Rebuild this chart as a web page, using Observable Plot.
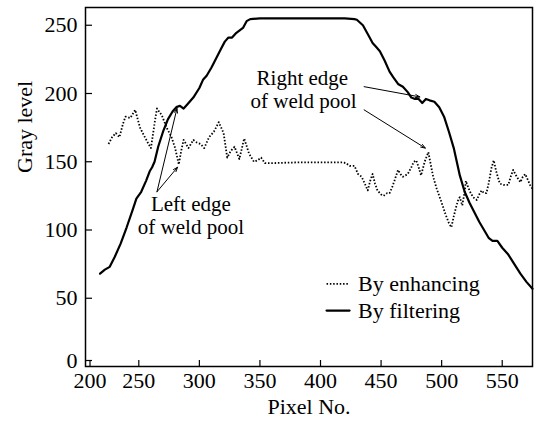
<!DOCTYPE html>
<html><head><meta charset="utf-8">
<script src="https://cdn.jsdelivr.net/npm/d3@7"></script>
<script src="https://cdn.jsdelivr.net/npm/@observablehq/plot@0.6"></script>
<style>body{margin:0;background:#fff}</style>
</head><body><div id="chart"></div>
<script>
// By filtering (solid)
const filterX = [218,222,226,230,235,240,245,248,252,256,259,261,263,266,270,274,278,281,284,287,290,295,300,303,306,310,314,318,321,324,327,330,333,336,339,342,350,380,420,428,430,435,440,443,446,449,453,457,460,464,468,472,475,478,481,484,487,490,494,498,502,506,510,515,519,523,527,531,535,539,542,546,550,555,560,565,570,575];
const filterY = [68,71,73,80,90,102,115,123,128,136,143,146,150,161,172,181,187,190,191,189,192,197,204,210,213,219,226,233,238,241,241,244,246,248,253,254.5,255,255,255,254.5,254,250,242,237,234,231,224,216,212,207,205,201,197,196,196,193,196,195,194,190,183,172,160,140,128,120,113,106,100,94,92,92,87,82,75,68,62,57];
// By enhancing (dotted)
const enhanceX = [225,228,231,234,237,239,243,247,251,255,258,260,263,265,269,273,277,280,283,285,287,291,295,298,301,304,308,312,316,320,323,326,329,333,337,341,345,348,351,354,360,380,400,418,421,424,428,431,434,437,439,441,443,445,447,450,452,455,457,459,461,464,466,468,470,472,475,477,479,481,483,486,489,491,493,496,500,503,506,508,510,512,514,515,517,519,520,522,524,526,529,531,533,535,537,539,541,543,545,548,551,555,557,559,562,565,567,569,571,573,575];
const enhanceY = [163,168,171,168,178,183,182,188,175,168,163,160,178,189,184,175,168,160,148,158,166,160,166,164,163,160,168,172,179,171,153,158,161,152,167,156,150,151,153,149,149,149.5,149.5,149.5,149,147,147,141,139,133,129,136,141,134,129,126,125,127,127,131,136,144,141,139,140,141,146,150,151,146,140,150,157,148,139,130,120,112,105,102,110,117,123,124,118,128,136,131,127,124,122,126,129,127,127,135,145,151,143,134,133,133,139,144,139,135,139,141,137,133,130];
const xTicks = [200,250,300,350,400,450,500,550];
const yTicks = [0,50,100,150,200,250];
const seriesNames = ["By enhancing","By filtering"];
const annoLeft = ["Left edge","of weld pool"];
const annoRight = ["Right edge","of weld pool"];

const filtering = filterX.map((x,i)=>({x, y: filterY[i]}));
const enhancing = enhanceX.map((x,i)=>({x, y: enhanceY[i]}));

const dotted = {stroke:"black", strokeWidth:1.8, strokeDasharray:"1.5,1.8", strokeLinecap:"butt"};
const solid = {stroke:"black", strokeWidth:2.2};
const xAx = {tickSize: -6, tickPadding: 12, label: null, strokeWidth: 1.2};
const yAx = {tickSize: -7, tickPadding: 15, label: null, strokeWidth: 1.2};

const chart = Plot.plot({
  width: 534, height: 421,
  marginLeft: 85, marginRight: 2, marginTop: 7, marginBottom: 55,
  style: {fontFamily: "'Liberation Serif', 'Times New Roman', serif", fontSize: "22px", background: "white", color: "black"},
  x: {domain: [206, 575], clamp: true},
  y: {domain: [0, 263]},
  marks: [
    Plot.axisX(xTicks.filter(d => d > 200), xAx),
    Plot.axisX(xTicks.filter(d => d <= 200), {...xAx, dx: 4.5}),
    Plot.axisY(yTicks.filter(d => d > 0), yAx),
    Plot.axisY(yTicks.filter(d => d <= 0), {...yAx, dy: -6}),
    Plot.text(["Pixel No."], {frameAnchor: "bottom", dy: 40, lineAnchor: "middle"}),
    Plot.text(["Gray level"], {frameAnchor: "left", dx: -61, dy: -14, rotate: -90, lineAnchor: "middle"}),
    Plot.line(enhancing, {x: "x", y: "y", ...dotted}),
    Plot.line(filtering, {x: "x", y: "y", ...solid}),
    // annotations
    Plot.text(annoLeft, {x: [293, 293], y: [119, 102], textAnchor: "middle", lineAnchor: "middle", fontSize: 21}),
    Plot.text(annoRight, {x: [385, 386], y: [211, 194], textAnchor: "middle", lineAnchor: "middle", fontSize: 21}),
    Plot.arrow([
      {x1: 265, y1: 128, x2: 281.5, y2: 189},
      {x1: 265, y1: 128, x2: 282, y2: 146},
      {x1: 436, y1: 205, x2: 482, y2: 197.5},
      {x1: 436, y1: 188, x2: 486.5, y2: 160}
    ], {x1: "x1", y1: "y1", x2: "x2", y2: "y2", stroke: "black", strokeWidth: 1, headLength: 7, headAngle: 40}),
    // legend
    Plot.line([{x: 405, y: 60.5}, {x: 424, y: 60.5}], {x: "x", y: "y", ...dotted}),
    Plot.line([{x: 405, y: 41}, {x: 424, y: 41}], {x: "x", y: "y", ...solid}),
    Plot.text(seriesNames, {x: [431, 431], y: [60.5, 41], textAnchor: "start", lineAnchor: "middle"}),
    Plot.frame({stroke: "black", strokeWidth: 1.5})
  ]
});
document.getElementById("chart").append(chart);
</script>
</body></html>
